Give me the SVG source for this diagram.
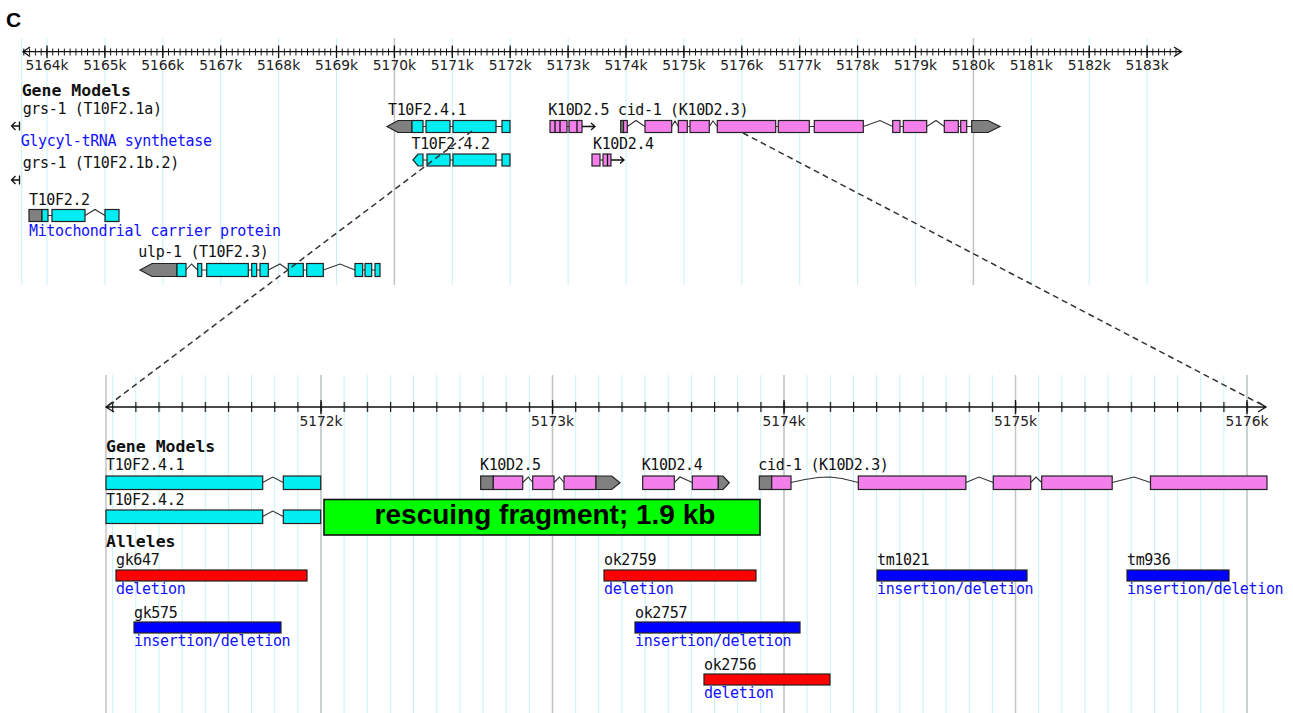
<svg xmlns="http://www.w3.org/2000/svg" width="1293" height="713" viewBox="0 0 1293 713">
<style>
.grid{stroke:#c6f2f6;stroke-width:1;fill:none}
.gmaj{stroke:#c4c4c4;stroke-width:1.5;fill:none}
.rul{stroke:#111;stroke-width:1.3;fill:none}
.rl{font-family:"DejaVu Sans",Verdana,sans-serif;font-size:13.8px;fill:#222;text-anchor:middle}
.t{font-family:"DejaVu Sans Mono","Liberation Mono",monospace;font-size:15px;letter-spacing:-0.35px;fill:#111}
.d{font-family:"DejaVu Sans Mono","Liberation Mono",monospace;font-size:15px;letter-spacing:-0.35px;fill:#1010ff}
.h{font-family:"DejaVu Sans Mono","Liberation Mono",monospace;font-size:16.5px;font-weight:bold;fill:#111}
.cy{fill:#00eef2;stroke:#222;stroke-width:1.2}
.pk{fill:#f27fea;stroke:#222;stroke-width:1.2}
.gy{fill:#808080;stroke:#222;stroke-width:1.2}
.in{fill:none;stroke:#333;stroke-width:1.1}
.red{fill:#ff0000;stroke:#222;stroke-width:1.2}
.blu{fill:#0000ff;stroke:#222;stroke-width:1.2}
.dash{fill:none;stroke:#333;stroke-width:1.5;stroke-dasharray:6 4}
</style>
<defs>
<pattern id="tickTop" patternUnits="userSpaceOnUse" x="23.3" y="48.5" width="5.79" height="7"><rect width="1" height="7" fill="#111"/></pattern>
<pattern id="tickLow" patternUnits="userSpaceOnUse" x="112.15" y="402" width="23.15" height="10"><rect width="1.2" height="10" fill="#111"/></pattern>
<pattern id="gridLow" patternUnits="userSpaceOnUse" x="112.15" y="375" width="23.15" height="338"><rect width="1" height="338" fill="#c6f2f6"/></pattern>
</defs>
<rect width="1293" height="713" fill="#ffffff"/>
<text x="6" y="27" style="font-family:'Liberation Sans',Arial,sans-serif;font-size:21px;font-weight:bold" fill="#000">C</text>

<g id="top-grid">
<path class="grid" d="M21.7,38V285M47,38V285M104.9,38V285M162.8,38V285M220.7,38V285M278.6,38V285M336.5,38V285M452.3,38V285M510.2,38V285M568.1,38V285M626,38V285M683.9,38V285M741.8,38V285M799.7,38V285M857.6,38V285M915.5,38V285M1031.3,38V285M1089.2,38V285M1147.1,38V285"/>
<path class="gmaj" d="M394.4,38V285M973.4,38V285"/>
</g>
<g id="top-ruler">
<path class="rul" d="M22.7,51.7H1181.5M30,47L23,51.7L30,56.5M1174,47L1181.5,51.7L1174,56.5"/>
<rect x="23" y="48.5" width="1154" height="7" fill="url(#tickTop)"/>
<path class="rul" d="M47,45.5V58M104.9,45.5V58M162.8,45.5V58M220.7,45.5V58M278.6,45.5V58M336.5,45.5V58M394.4,45.5V58M452.3,45.5V58M510.2,45.5V58M568.1,45.5V58M626,45.5V58M683.9,45.5V58M741.8,45.5V58M799.7,45.5V58M857.6,45.5V58M915.5,45.5V58M973.4,45.5V58M1031.3,45.5V58M1089.2,45.5V58M1147.1,45.5V58"/>
<text class="rl" x="47" y="70">5164k</text><text class="rl" x="104.9" y="70">5165k</text><text class="rl" x="162.8" y="70">5166k</text><text class="rl" x="220.7" y="70">5167k</text><text class="rl" x="278.6" y="70">5168k</text><text class="rl" x="336.5" y="70">5169k</text><text class="rl" x="394.4" y="70">5170k</text><text class="rl" x="452.3" y="70">5171k</text><text class="rl" x="510.2" y="70">5172k</text><text class="rl" x="568.1" y="70">5173k</text><text class="rl" x="626" y="70">5174k</text><text class="rl" x="683.9" y="70">5175k</text><text class="rl" x="741.8" y="70">5176k</text><text class="rl" x="799.7" y="70">5177k</text><text class="rl" x="857.6" y="70">5178k</text><text class="rl" x="915.5" y="70">5179k</text><text class="rl" x="973.4" y="70">5180k</text><text class="rl" x="1031.3" y="70">5181k</text><text class="rl" x="1089.2" y="70">5182k</text><text class="rl" x="1147.1" y="70">5183k</text>
</g>
<text class="h" x="21.7" y="96">Gene Models</text>

<g id="grs-1a">
<text class="t" x="22.7" y="114">grs-1 (T10F2.1a)</text>
<path class="rul" d="M15.5,122L11.5,126L15.5,130M11.5,126H19.5M19.5,121.5V130.5"/>
<text class="d" x="20.7" y="146">Glycyl-tRNA synthetase</text>
</g>
<g id="grs-1b2">
<text class="t" x="22.7" y="168">grs-1 (T10F2.1b.2)</text>
<path class="rul" d="M15.5,176L11.5,180L15.5,184M11.5,180H19.5M19.5,175.5V184.5"/>
</g>
<g id="T10F2.2">
<text class="t" x="29" y="205">T10F2.2</text>
<path class="in" d="M48,215.5H52M85,215.5L95,209.5L105,215.5"/>
<rect class="gy" x="29" y="209.5" width="13" height="12"/>
<rect class="cy" x="42" y="209.5" width="6" height="12"/>
<rect class="cy" x="52" y="209.5" width="33" height="12"/>
<rect class="cy" x="105" y="209.5" width="14" height="12"/>
<text class="d" x="29" y="236">Mitochondrial carrier protein</text>
</g>
<g id="ulp-1">
<text class="t" x="138.3" y="257">ulp-1 (T10F2.3)</text>
<path class="in" d="M186,270L191.5,264L197.7,270M201.7,270H206.7M248.3,270H260M268.3,270L280,264L288.3,270M303.3,270H306.7M323.3,270L340,264L355,270M362.7,270H375"/>
<path class="gy" d="M140,270L152,263.5H177V276.5H152Z"/>
<rect class="cy" x="177" y="263.5" width="9" height="13"/>
<rect class="cy" x="197.7" y="263.5" width="4" height="13"/>
<rect class="cy" x="206.7" y="263.5" width="41.6" height="13"/>
<rect class="cy" x="251.7" y="263.5" width="5" height="13"/>
<rect class="cy" x="260" y="263.5" width="8.3" height="13"/>
<rect class="cy" x="288.3" y="263.5" width="15" height="13"/>
<rect class="cy" x="306.7" y="263.5" width="16.6" height="13"/>
<rect class="cy" x="355" y="263.5" width="7.7" height="13"/>
<rect class="cy" x="365" y="263.5" width="6.7" height="13"/>
<rect class="cy" x="375" y="263.5" width="5" height="13"/>
</g>
<g id="T10F2.4.1-top">
<text class="t" x="388" y="115">T10F2.4.1</text>
<path class="in" d="M423,126.5H426M450,126.5H453M496,126.5H502"/>
<path class="gy" d="M387,126.5L398,120.5H412V132.5H398Z"/>
<rect class="cy" x="412" y="120.5" width="11" height="12"/>
<rect class="cy" x="426" y="120.5" width="24" height="12"/>
<rect class="cy" x="453" y="120.5" width="43" height="12"/>
<rect class="cy" x="502" y="120.5" width="8" height="12"/>
</g>
<g id="T10F2.4.2-top">
<text class="t" x="411.5" y="149">T10F2.4.2</text>
<path class="in" d="M423,160H427M450,160H453M496,160H502"/>
<path class="cy" d="M413,160L418,154H423V166H418Z"/>
<rect class="cy" x="427" y="154" width="23" height="12"/>
<rect class="cy" x="453" y="154" width="43" height="12"/>
<rect class="cy" x="502" y="154" width="8" height="12"/>
</g>
<g id="K10D2.5-top">
<text class="t" x="548.3" y="115">K10D2.5</text>
<path class="in" d="M567,126.5H569"/>
<rect class="pk" x="550" y="120.5" width="17" height="12"/>
<rect class="pk" x="569" y="120.5" width="13" height="12"/>
<path class="rul" d="M555,120.5V132.5M560,120.5V132.5M577,120.5V132.5M582,126.5H595M591,123L595,126.5L591,130"/>
</g>
<g id="K10D2.4-top">
<text class="t" x="593" y="149">K10D2.4</text>
<path class="in" d="M600,160H603"/>
<rect class="pk" x="592" y="154" width="8" height="12"/>
<rect class="pk" x="603" y="154" width="8" height="12"/>
<path class="rul" d="M607.5,154V166M611,160H624M620,156.5L624,160L620,163.5"/>
</g>
<g id="cid-1-top">
<text class="t" x="618" y="115">cid-1 (K10D2.3)</text>
<path class="in" d="M627.3,126.5L636,120.5L645,126.5M671.7,126.5L675,121L678.3,126.5M687.3,126.5H690M709.3,126.5L713,121L717.3,126.5M775.7,126.5H778.3M809.3,126.5H814.3M863.3,126.5L880,120.5L892.7,126.5M900,126.5H903.3M926.7,126.5L936,120.5L944.3,126.5M958.3,126.5H960.7M966.7,126.5H971.7"/>
<rect class="gy" x="620.7" y="120.5" width="2.8" height="12"/>
<rect class="pk" x="623.5" y="120.5" width="3.8" height="12"/>
<rect class="pk" x="645" y="120.5" width="26.7" height="12"/>
<rect class="pk" x="678.3" y="120.5" width="9" height="12"/>
<rect class="pk" x="690" y="120.5" width="19.3" height="12"/>
<rect class="pk" x="717.3" y="120.5" width="58.4" height="12"/>
<rect class="pk" x="778.3" y="120.5" width="31" height="12"/>
<rect class="pk" x="814.3" y="120.5" width="49" height="12"/>
<rect class="pk" x="892.7" y="120.5" width="7.3" height="12"/>
<rect class="pk" x="903.3" y="120.5" width="23.4" height="12"/>
<rect class="pk" x="944.3" y="120.5" width="14" height="12"/>
<rect class="pk" x="960.7" y="120.5" width="6" height="12"/>
<path class="gy" d="M971.7,120.5H988L1000,126.5L988,132.5H971.7Z"/>
</g>

<g id="low-grid">
<rect x="107" y="375" width="1161" height="338" fill="url(#gridLow)"/>
<path class="gmaj" d="M106,375V713M321,375V713M552.5,375V713M784,375V713M1015.5,375V713M1247,375V713"/>
</g>
<g id="low-ruler">
<path class="rul" d="M106,407H1266M114,402L106,407L114,412M1258,402L1266,407L1258,412"/>
<rect x="110" y="402" width="1150" height="10" fill="url(#tickLow)"/>
<path class="rul" d="M321,400V414M552.5,400V414M784,400V414M1015.5,400V414M1247,400V414"/>
<text class="rl" x="321" y="426">5172k</text><text class="rl" x="552.5" y="426">5173k</text><text class="rl" x="784" y="426">5174k</text><text class="rl" x="1015.5" y="426">5175k</text><text class="rl" x="1247" y="426">5176k</text>
</g>
<text class="h" x="106" y="452">Gene Models</text>

<g id="T10F2.4.1">
<text class="t" x="106" y="470">T10F2.4.1</text>
<path class="in" d="M262.7,482.5L272.7,477L283.3,482.5"/>
<rect class="cy" x="106" y="476" width="156.7" height="13.5"/>
<rect class="cy" x="283.3" y="476" width="37.4" height="13.5"/>
</g>
<g id="T10F2.4.2">
<text class="t" x="106" y="505">T10F2.4.2</text>
<path class="in" d="M262.7,516.5L272.7,511L283.3,516.5"/>
<rect class="cy" x="106" y="510" width="156.7" height="13.5"/>
<rect class="cy" x="283.3" y="510" width="37.4" height="13.5"/>
</g>
<g id="K10D2.5">
<text class="t" x="480" y="470">K10D2.5</text>
<path class="in" d="M522.7,482.5L528.3,477L532.7,482.5M554,482.5L559.3,477L564,482.5"/>
<rect class="gy" x="480.7" y="476" width="12.6" height="13.5"/>
<rect class="pk" x="493.3" y="476" width="29.4" height="13.5"/>
<rect class="pk" x="532.7" y="476" width="21.3" height="13.5"/>
<rect class="pk" x="564" y="476" width="32" height="13.5"/>
<path class="gy" d="M596,476H611.7L620,482.75L611.7,489.5H596Z"/>
</g>
<g id="K10D2.4">
<text class="t" x="641.7" y="470">K10D2.4</text>
<path class="in" d="M674.3,482.5L680,477L692.3,482.5"/>
<rect class="pk" x="642.7" y="476" width="31.6" height="13.5"/>
<rect class="pk" x="692.3" y="476" width="26" height="13.5"/>
<path class="gy" d="M718.3,476H723L729.3,482.75L723,489.5H718.3Z"/>
</g>
<g id="cid-1">
<text class="t" x="758.3" y="470">cid-1 (K10D2.3)</text>
<path class="in" d="M791,482.5L805,479.5L818,477.5L830,477L842,478.5L858.3,482.5M965.9,482.5L979,477L993.3,482.5M1030.7,482.5L1036,477L1041.7,482.5M1112.2,482.5L1134,477L1150.5,482.5"/>
<rect class="gy" x="759.3" y="476" width="12.4" height="13.5"/>
<rect class="pk" x="771.7" y="476" width="19.3" height="13.5"/>
<rect class="pk" x="858.3" y="476" width="107.6" height="13.5"/>
<rect class="pk" x="993.3" y="476" width="37.4" height="13.5"/>
<rect class="pk" x="1041.7" y="476" width="70.5" height="13.5"/>
<rect class="pk" x="1150.5" y="476" width="116.5" height="13.5"/>
</g>
<g id="rescuing-fragment">
<rect x="324" y="499.5" width="436" height="35.5" fill="#00ff00" stroke="#111" stroke-width="1.6"/>
<text x="545" y="523.5" text-anchor="middle" style="font-family:'Liberation Sans',Arial,sans-serif;font-size:28px;font-weight:bold" fill="#000">rescuing fragment; 1.9 kb</text>
</g>

<text class="h" x="106" y="547">Alleles</text>
<g id="gk647">
<text class="t" x="116" y="565">gk647</text>
<rect class="red" x="116" y="570" width="191" height="11"/>
<text class="d" x="116" y="594">deletion</text>
</g>
<g id="gk575">
<text class="t" x="134" y="618">gk575</text>
<rect class="blu" x="134" y="622" width="147" height="11"/>
<text class="d" x="134" y="646">insertion/deletion</text>
</g>
<g id="ok2759">
<text class="t" x="604" y="565">ok2759</text>
<rect class="red" x="604" y="570" width="152" height="11"/>
<text class="d" x="604" y="594">deletion</text>
</g>
<g id="ok2757">
<text class="t" x="635" y="618">ok2757</text>
<rect class="blu" x="635" y="622" width="165" height="11"/>
<text class="d" x="635" y="646">insertion/deletion</text>
</g>
<g id="ok2756">
<text class="t" x="704" y="670">ok2756</text>
<rect class="red" x="704" y="674" width="126" height="11"/>
<text class="d" x="704" y="698">deletion</text>
</g>
<g id="tm1021">
<text class="t" x="877" y="565">tm1021</text>
<rect class="blu" x="877" y="570" width="150" height="11"/>
<text class="d" x="877" y="594">insertion/deletion</text>
</g>
<g id="tm936">
<text class="t" x="1127" y="565">tm936</text>
<rect class="blu" x="1127" y="570" width="102" height="11"/>
<text class="d" x="1127" y="594">insertion/deletion</text>
</g>

<g id="connectors">
<path class="dash" d="M472,131L106,407"/>
<path class="dash" d="M743,133L1266,407"/>
</g>
</svg>
